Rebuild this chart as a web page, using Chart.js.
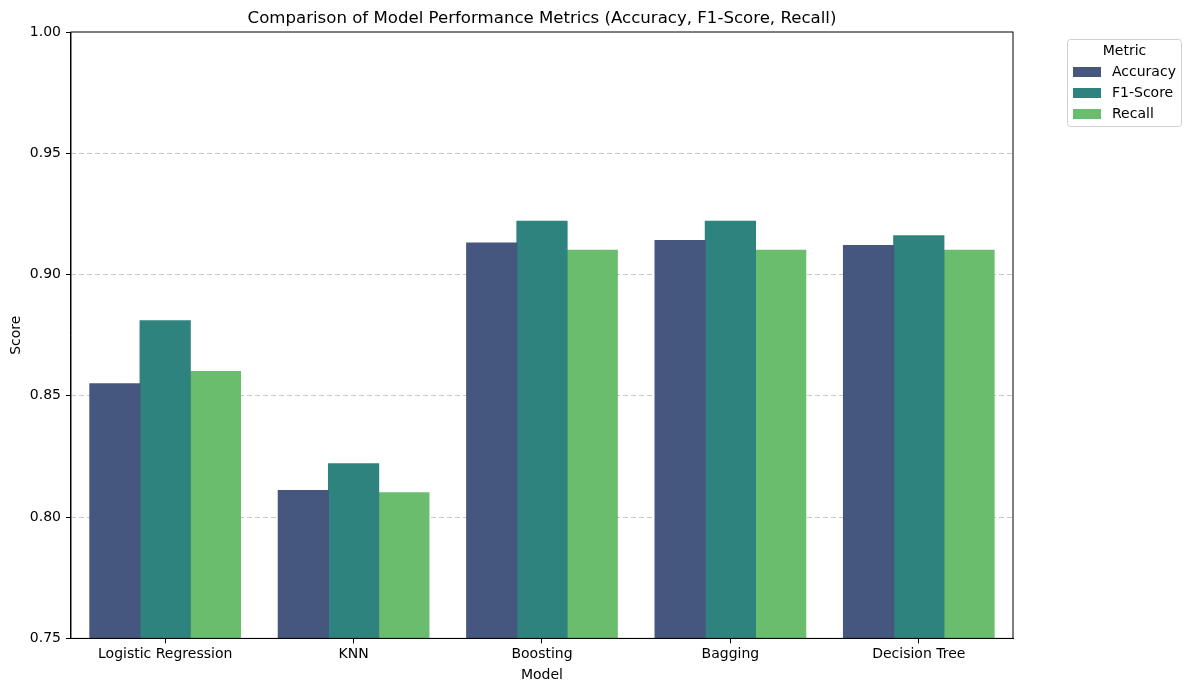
<!DOCTYPE html>
<html lang="en">
<head>
    <meta charset="UTF-8">
    <title>Model Performance Metrics</title>
    <script src="https://cdn.jsdelivr.net/npm/chart.js"></script>
    <style>
        body { margin: 0; background: #fff; }
        #wrap { width: 1190px; height: 690px; }
    </style>
</head>
<body>
    <div id="wrap"><canvas id="metricsChart" width="1190" height="690"></canvas></div>

    <script>
        // Data
        const models = ['Logistic Regression', 'KNN', 'Boosting', 'Bagging', 'Decision Tree'];
        const accuracy = [0.855, 0.811, 0.913, 0.914, 0.912];
        const f1Score = [0.881, 0.822, 0.922, 0.922, 0.916];
        const recall = [0.860, 0.810, 0.910, 0.910, 0.910];
        const yTicks = [0.75, 0.80, 0.85, 0.90, 0.95, 1.00];

        const metricNames = ['Accuracy', 'F1-Score', 'Recall'];
        const metricColors = ['#45577f', '#2e837e', '#6abd6d'];
        const FONT = "'DejaVu Sans', sans-serif";
        const TITLE = 'Comparison of Model Performance Metrics (Accuracy, F1-Score, Recall)';

        // frame around the plot, title centred over the plot, legend outside on the right
        const framePlugin = {
            id: 'frame',
            afterDraw(chart) {
                const { ctx, chartArea: a } = chart;
                ctx.save();
                ctx.strokeStyle = '#000';
                ctx.lineWidth = 1;
                ctx.strokeRect(a.left, a.top, a.right - a.left, a.bottom - a.top);

                ctx.fillStyle = '#000';
                ctx.font = '16.6px ' + FONT;
                ctx.textAlign = 'center';
                ctx.textBaseline = 'middle';
                ctx.fillText(TITLE, (a.left + a.right) / 2, 19);

                // legend box
                const lx = 1067.5, ly = 39.5, lw = 114, lh = 87;
                ctx.strokeStyle = '#d0d0d0';
                ctx.fillStyle = 'rgba(255,255,255,0.8)';
                ctx.beginPath();
                ctx.roundRect(lx, ly, lw, lh, 3);
                ctx.fill();
                ctx.stroke();
                ctx.fillStyle = '#000';
                ctx.font = '14px ' + FONT;
                ctx.fillText('Metric', lx + lw / 2, 51);
                ctx.textAlign = 'left';
                metricNames.forEach((name, i) => {
                    const y = 72 + i * 21;
                    ctx.fillStyle = metricColors[i];
                    ctx.fillRect(1073, y - 5, 28, 10);
                    ctx.fillStyle = '#000';
                    ctx.fillText(name, 1112, y);
                });
                ctx.restore();
            }
        };

        const ctx = document.getElementById('metricsChart').getContext('2d');
        new Chart(ctx, {
            type: 'bar',
            data: {
                labels: models,
                datasets: [accuracy, f1Score, recall].map((vals, i) => ({
                    label: metricNames[i],
                    data: vals,
                    backgroundColor: metricColors[i],
                    borderWidth: 0,
                    inflateAmount: 0.5,
                    barPercentage: 1.0,
                    categoryPercentage: 0.8
                }))
            },
            options: {
                responsive: false,
                animation: false,
                layout: { padding: { left: 8, right: 177, top: 32, bottom: 2 } },
                plugins: {
                    legend: { display: false },
                    tooltip: { enabled: false },
                    title: { display: false }
                },
                scales: {
                    x: {
                        grid: {
                            offset: false,
                            drawOnChartArea: false,
                            tickLength: 5,
                            tickColor: '#000'
                        },
                        border: { color: '#000' },
                        ticks: { color: '#000', font: { family: FONT, size: 14 }, padding: 3, maxRotation: 0 },
                        title: { display: true, text: 'Model', color: '#000', font: { family: FONT, size: 14 }, padding: { top: 1 } }
                    },
                    y: {
                        min: 0.75,
                        max: 1.0,
                        afterBuildTicks(scale) {
                            scale.ticks = yTicks.map(v => ({ value: v }));
                        },
                        grid: {
                            color: ctx => (ctx.tick && (ctx.tick.value === 0.75 || ctx.tick.value === 1.0)) ? 'rgba(0,0,0,0)' : 'rgba(176,176,176,0.7)',
                            tickColor: '#000',
                            tickLength: 5
                        },
                        border: { color: '#000', dash: [5, 3] },
                        ticks: {
                            color: '#000',
                            font: { family: FONT, size: 14 },
                            padding: 5,
                            callback: v => v.toFixed(2)
                        },
                        title: { display: true, text: 'Score', color: '#000', font: { family: FONT, size: 14 }, padding: { top: 0, bottom: 0 } }
                    }
                }
            },
            plugins: [framePlugin]
        });
    </script>
</body>
</html>
